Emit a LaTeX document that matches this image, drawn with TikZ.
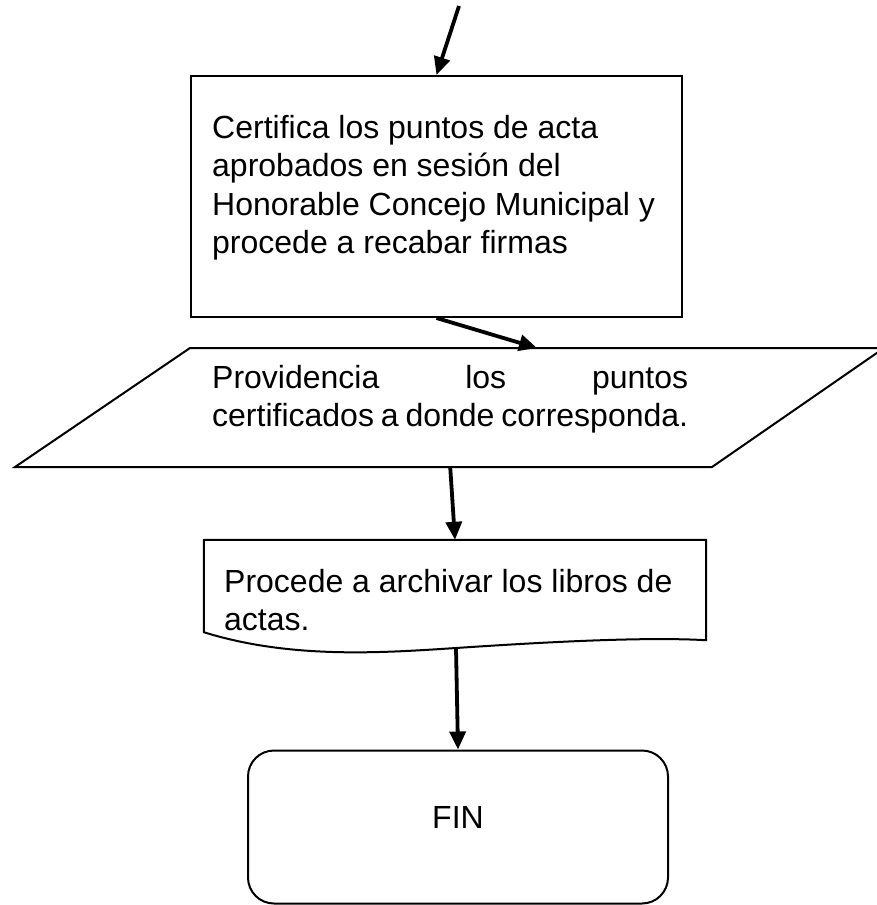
\documentclass[tikz,border=0pt]{standalone}
\usepackage{fontspec}
\setmainfont{Liberation Sans}
\usetikzlibrary{arrows.meta,calc}
\tikzset{
  box/.style={draw, line width=2pt},
  flow/.style={line width=3.8pt, -{Triangle[length=18pt,width=16pt]}},
  txt/.style={font=\fontsize{32}{38.5}\selectfont, inner sep=0pt, anchor=base west}
}

\begin{document}
\begin{tikzpicture}[x=1pt,y=-1pt]
  \useasboundingbox (0,0) rectangle (876,905);

  % certifica
  \node[box, minimum width=491pt, minimum height=241pt, inner sep=0pt] (cert) at (436.5,196.5) {};
  \node[txt, text width=465pt, align=flush left] (certtxt) at (212,138)
    {Certifica los puntos de acta\\aprobados en sesión del\\Honorable Concejo Municipal y\\procede a recabar firmas};

  % providencia (parallelogram)
  \coordinate (p1) at (190,348);
  \coordinate (p2) at (884,348);
  \coordinate (p3) at (712,467);
  \coordinate (p4) at (15,467);
  \draw[box] (p1) -- (p2) -- (p3) -- (p4) -- cycle;
  \node[txt, text width=476pt, align=justify] (prov) at (212,388)
    {Providencia los puntos\linebreak certificados a donde corresponda.};

  % archivar (document)
  \node[inner sep=0pt, minimum width=502pt, minimum height=100pt] (doc) at (455,590) {};
  \draw[box] (doc.south east) -- (doc.north east) -- (doc.north west) -- ([yshift=8pt]doc.south west)
    .. controls (290,659) and (380,653) .. (456,648)
    .. controls (560,641) and (650,637) .. (doc.south east) -- cycle;
  \node[txt, text width=475pt, align=flush left] (doctxt) at (224,592) {Procede a archivar los libros de\\actas.};
  \coordinate (docout) at (456,648);

  % fin
  \node[box, rounded corners=26pt, minimum width=420pt, minimum height=153pt, inner sep=0pt] (fin) at (458,827) {};
  \node[font=\fontsize{32}{38.5}\selectfont, inner sep=0pt] (fintxt) at (458,817) {FIN};

  % connectors
  \coordinate (start) at (459,6);
  \draw[flow] (start) -- (cert.north);
  \draw[flow] (cert.south) -- ($(p1)!0.5!(p2)$);
  \draw[flow] (prov.south |- p4) -- (doc.north);
  \draw[flow] (docout) -- (fin.north);
\end{tikzpicture}
\end{document}
